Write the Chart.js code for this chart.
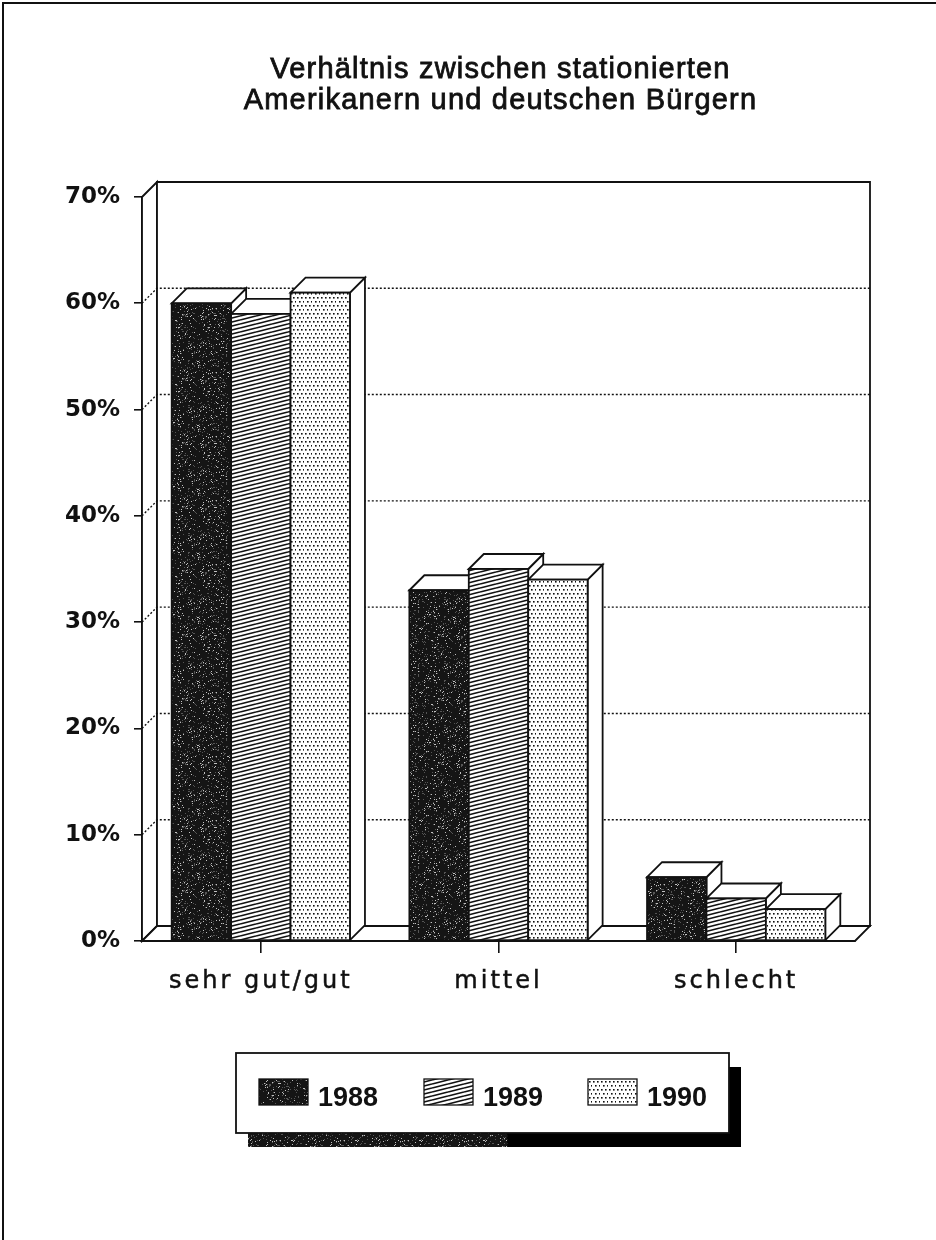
<!DOCTYPE html>
<html lang="de">
<head>
<meta charset="utf-8">
<title>Verhältnis zwischen stationierten Amerikanern und deutschen Bürgern</title>
<script src="https://cdn.jsdelivr.net/npm/chart.js@4.4.1/dist/chart.umd.min.js"></script>
<style>
  html, body { margin: 0; padding: 0; background: #fff; }
  #wrap { position: relative; width: 936px; height: 1240px; }
</style>
</head>
<body>
<div id="wrap"><canvas id="chart"></canvas></div>
<script>
// --- data ---
const titleLines = ['Verhältnis zwischen stationierten', 'Amerikanern und deutschen Bürgern'];
const categories = ['sehr gut/gut', 'mittel', 'schlecht'];
const years = ['1988', '1989', '1990'];
const values1988 = [60, 33, 6];
const values1989 = [59, 35, 4];
const values1990 = [61, 34, 3];
const yMin = 0, yMax = 70, yStep = 10;

// fake 3D depth + ink colour
const DX = 15, DY = 15;
const INK = '#111';

function makeTile(w, h, paint) {
  const c = document.createElement('canvas');
  c.width = w; c.height = h;
  paint(c.getContext('2d'), w, h);
  return c;
}

// 1988: dark grainy fill
const grainTile = makeTile(64, 64, (g, w, h) => {
  g.fillStyle = '#151515';
  g.fillRect(0, 0, w, h);
  let s = 12345;
  for (let i = 0; i < 520; i++) {
    s = (s * 16807) % 2147483647;
    const px = s % w;
    s = (s * 16807) % 2147483647;
    const py = s % h;
    g.fillStyle = (i % 3 === 0) ? '#c0c0c0' : '#555';
    g.fillRect(px, py, 1, 1);
  }
});

// 1989: shallow diagonal hatch
const hatchTile = makeTile(16, 4, (g, w, h) => {
  g.fillStyle = '#fff';
  g.fillRect(0, 0, w, h);
  g.strokeStyle = INK;
  g.lineWidth = 1.6;
  for (let k = -1; k <= 1; k++) {
    g.beginPath();
    g.moveTo(0, h + k * h);
    g.lineTo(w, k * h);
    g.stroke();
  }
});

// 1990: fine dots
const dotTile = makeTile(8, 8, (g, w, h) => {
  g.fillStyle = '#fff';
  g.fillRect(0, 0, w, h);
  g.fillStyle = INK;
  [[1, 1], [5, 1], [3, 5], [7, 5]].forEach(([px, py]) => g.fillRect(px, py, 1.6, 1.6));
});

const patCtx = document.createElement('canvas').getContext('2d');
const fills = [
  patCtx.createPattern(grainTile, 'repeat'),
  patCtx.createPattern(hatchTile, 'repeat'),
  patCtx.createPattern(dotTile, 'repeat')
];

function poly(ctx, pts, fill) {
  ctx.beginPath();
  ctx.moveTo(pts[0][0], pts[0][1]);
  for (let i = 1; i < pts.length; i++) ctx.lineTo(pts[i][0], pts[i][1]);
  ctx.closePath();
  if (fill) { ctx.fillStyle = fill; ctx.fill(); }
  ctx.stroke();
}

const box3d = {
  id: 'box3d',
  beforeDatasetsDraw(chart) {
    const { ctx, chartArea: a, scales: { y } } = chart;
    ctx.save();
    ctx.lineWidth = 1.8;
    ctx.strokeStyle = INK;
    ctx.lineJoin = 'miter';

    // walls + floor
    poly(ctx, [[a.left, a.top], [a.left + DX, a.top - DY], [a.left + DX, a.bottom - DY], [a.left, a.bottom]], '#fff');
    poly(ctx, [[a.left + DX, a.top - DY], [a.right + DX, a.top - DY], [a.right + DX, a.bottom - DY], [a.left + DX, a.bottom - DY]], '#fff');
    poly(ctx, [[a.left, a.bottom], [a.left + DX, a.bottom - DY], [a.right + DX, a.bottom - DY], [a.right, a.bottom]], '#fff');

    // dotted grid on the back wall
    ctx.setLineDash([2, 2]);
    ctx.lineWidth = 1.4;
    y.ticks.forEach(t => {
      if (t.value <= yMin || t.value >= yMax) return;
      const py = y.getPixelForValue(t.value);
      ctx.beginPath();
      ctx.moveTo(a.left, py);
      ctx.lineTo(a.left + DX, py - DY);
      ctx.lineTo(a.right + DX, py - DY);
      ctx.stroke();
    });
    ctx.setLineDash([]);
    ctx.lineWidth = 1.8;

    // bars, left to right so each front face hides its neighbour's side
    const metas = chart.getSortedVisibleDatasetMetas().slice().sort((m1, m2) => m1.index - m2.index);
    for (let i = 0; i < categories.length; i++) {
      metas.forEach(meta => {
        const bar = meta.data[i];
        const { x: cx, y: top, base, width } = bar.getProps(['x', 'y', 'base', 'width'], true);
        const l = cx - width / 2, r = cx + width / 2;
        poly(ctx, [[r, top], [r + DX, top - DY], [r + DX, base - DY], [r, base]], '#fff');
        poly(ctx, [[l, top], [l + DX, top - DY], [r + DX, top - DY], [r, top]], '#fff');
        ctx.fillStyle = fills[meta.index];
        ctx.fillRect(l, top, width, base - top);
        ctx.strokeRect(l, top, width, base - top);
      });
    }
    ctx.restore();
    return false;
  },
  afterDraw(chart) {
    const { ctx, chartArea: a, scales: { x } } = chart;
    ctx.save();
    ctx.fillStyle = INK;
    ctx.strokeStyle = INK;
    ctx.textBaseline = 'alphabetic';

    // title (slightly emboldened, the scan's face is heavier than regular)
    ctx.textAlign = 'center';
    ctx.font = '29px "Liberation Sans", Arial, sans-serif';
    ctx.letterSpacing = '1.2px';
    ctx.lineWidth = 0.8;
    const tx = (a.left + a.right) / 2 + 2;
    [78, 109].forEach((ty, i) => {
      ctx.fillText(titleLines[i], tx, ty);
      ctx.strokeText(titleLines[i], tx, ty);
    });

    // category labels
    ctx.font = '24px "DejaVu Sans", sans-serif';
    ctx.letterSpacing = '3px';
    ctx.lineWidth = 0.5;
    categories.forEach((c, i) => {
      ctx.fillText(c, x.getPixelForValue(i), a.bottom + 47);
      ctx.strokeText(c, x.getPixelForValue(i), a.bottom + 47);
    });
    ctx.letterSpacing = '0px';

    // legend box with drop shadow
    const lb = { x: 236, y: 1053, w: 493, h: 80 };
    ctx.fillStyle = fills[0];
    ctx.fillRect(lb.x + 12, lb.y + 14, lb.w, lb.h);
    ctx.fillStyle = '#000';
    ctx.fillRect(lb.x + lb.w * 0.55, lb.y + 14, lb.w * 0.45 + 12, lb.h);
    ctx.fillStyle = '#fff';
    ctx.lineWidth = 1.8;
    ctx.fillRect(lb.x, lb.y, lb.w, lb.h);
    ctx.strokeRect(lb.x, lb.y, lb.w, lb.h);

    ctx.textAlign = 'left';
    ctx.font = 'bold 27px "Liberation Sans", Arial, sans-serif';
    const swX = [259, 424, 588];
    years.forEach((yr, i) => {
      ctx.fillStyle = fills[i];
      ctx.fillRect(swX[i], 1079, 49, 26);
      ctx.lineWidth = 1.3;
      ctx.strokeRect(swX[i], 1079, 49, 26);
      ctx.fillStyle = INK;
      ctx.fillText(yr, swX[i] + 59, 1106);
    });

    // page frame (top + left only)
    ctx.lineWidth = 2;
    ctx.beginPath();
    ctx.moveTo(3, 1240);
    ctx.lineTo(3, 3);
    ctx.lineTo(936, 3);
    ctx.stroke();
    ctx.restore();
  }
};

new Chart(document.getElementById('chart'), {
  type: 'bar',
  data: {
    labels: categories,
    datasets: [
      { label: years[0], data: values1988, backgroundColor: fills[0] },
      { label: years[1], data: values1989, backgroundColor: fills[1] },
      { label: years[2], data: values1990, backgroundColor: fills[2] }
    ]
  },
  options: {
    responsive: true,
    maintainAspectRatio: false,
    animation: false,
    layout: { padding: { top: 197, right: 81, bottom: 279, left: 0 } },
    datasets: { bar: { categoryPercentage: 0.75, barPercentage: 1 } },
    plugins: {
      legend: { display: false },
      title: { display: false },
      tooltip: { enabled: false }
    },
    scales: {
      x: {
        grid: { offset: false, drawOnChartArea: false, color: INK, lineWidth: 1.6, tickLength: 12 },
        border: { color: INK, width: 1.8 },
        ticks: { display: false },
        afterFit: s => { s.height = 20; }
      },
      y: {
        min: yMin,
        max: yMax,
        ticks: {
          stepSize: yStep,
          callback: v => v + '%',
          color: INK,
          padding: 14,
          font: { family: '"DejaVu Sans", sans-serif', weight: 'bold', size: 23 }
        },
        grid: { drawOnChartArea: false, color: INK, lineWidth: 1.6, tickLength: 8 },
        border: { color: INK, width: 1.8 },
        afterFit: s => { s.width = 142; }
      }
    }
  },
  plugins: [box3d]
});
</script>
</body>
</html>
